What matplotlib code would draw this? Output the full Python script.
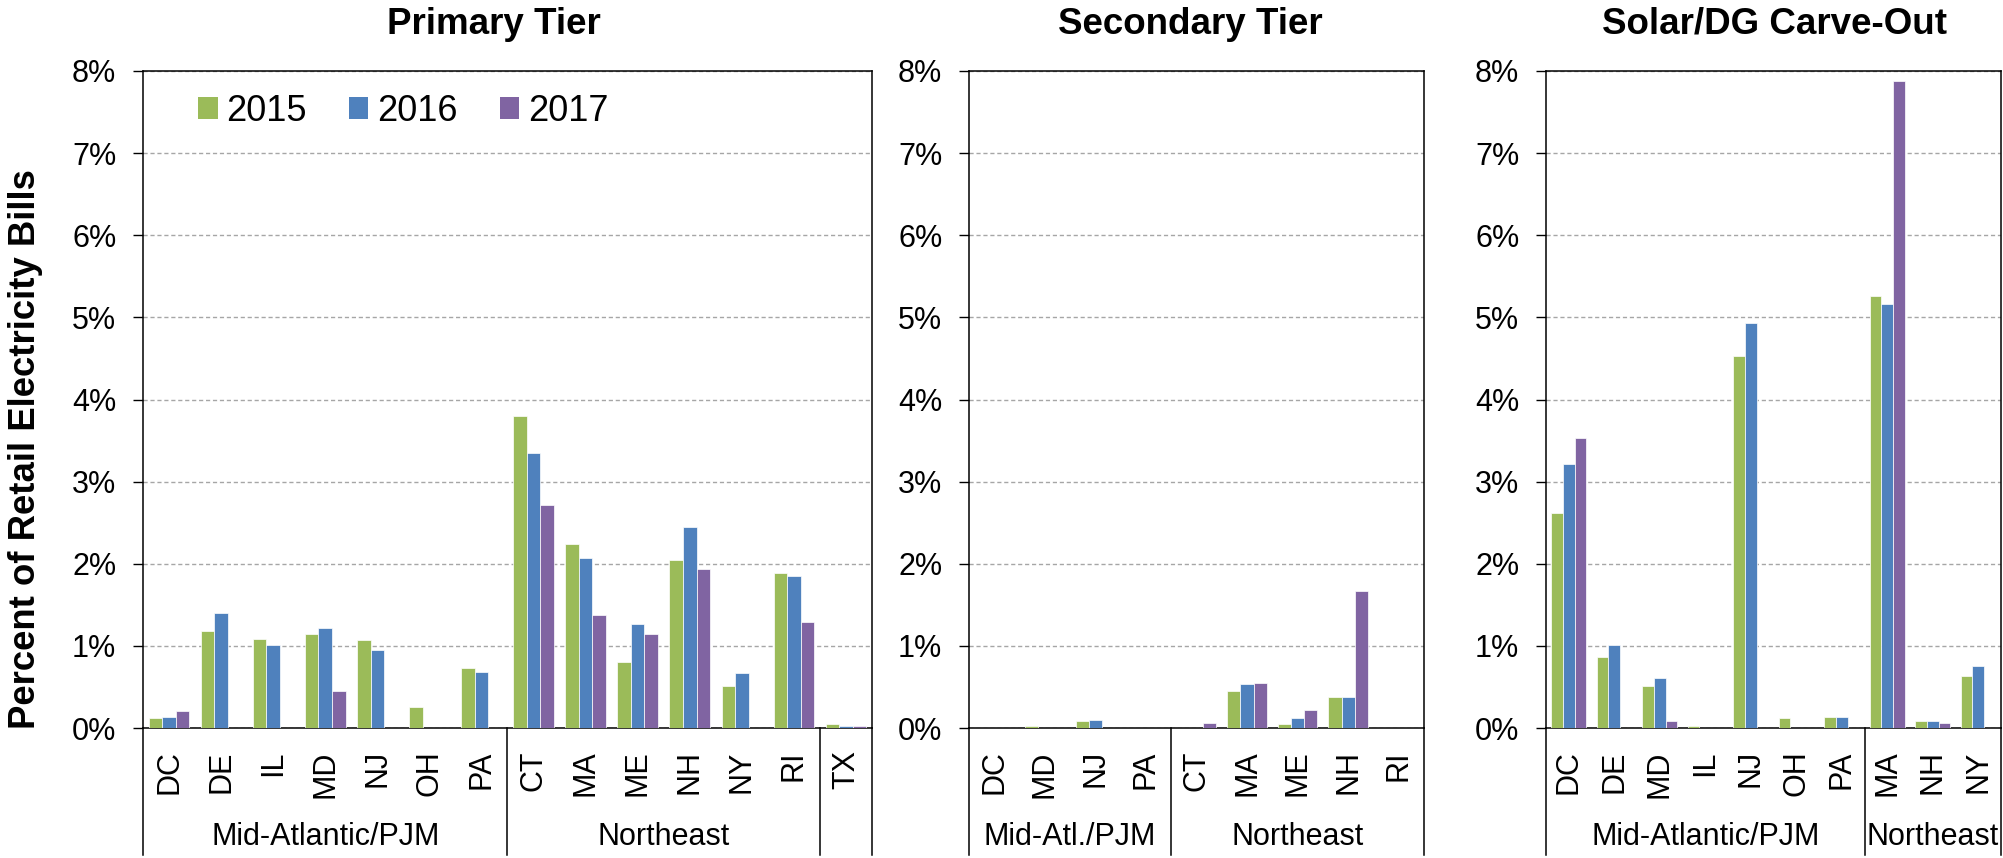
import matplotlib
matplotlib.use("Agg")
import matplotlib.pyplot as plt
from matplotlib.lines import Line2D
from matplotlib.patches import Patch
from matplotlib.ticker import FuncFormatter
import numpy as np

plt.rcParams['font.family'] = ['Liberation Sans', 'DejaVu Sans']

years = ["2015", "2016", "2017"]
year_colors = ["#9BBB59", "#4F81BD", "#8064A2"]

# ---- Primary Tier ----
primary_states = ["DC", "DE", "IL", "MD", "NJ", "OH", "PA", "CT", "MA", "ME", "NH", "NY", "RI", "TX"]
primary_2015 = [0.12, 1.18, 1.08, 1.14, 1.07, 0.25, 0.73, 3.80, 2.24, 0.80, 2.05, 0.51, 1.89, 0.05]
primary_2016 = [0.14, 1.40, 1.01, 1.22, 0.95, 0.00, 0.68, 3.35, 2.07, 1.27, 2.45, 0.67, 1.85, 0.03]
primary_2017 = [0.21, 0.00, 0.00, 0.45, 0.00, 0.00, 0.00, 2.71, 1.37, 1.15, 1.93, 0.00, 1.29, 0.03]
primary_groups = ["Mid-Atlantic/PJM", "Northeast", ""]
primary_group_sizes = [7, 6, 1]

# ---- Secondary Tier ----
secondary_states = ["DC", "MD", "NJ", "PA", "CT", "MA", "ME", "NH", "RI"]
secondary_2015 = [0.00, 0.02, 0.08, 0.00, 0.00, 0.45, 0.045, 0.38, 0.005]
secondary_2016 = [0.00, 0.00, 0.10, 0.00, 0.00, 0.53, 0.12, 0.38, 0.00]
secondary_2017 = [0.00, 0.00, 0.00, 0.00, 0.065, 0.55, 0.22, 1.67, 0.00]
secondary_groups = ["Mid-Atl./PJM", "Northeast"]
secondary_group_sizes = [4, 5]

# ---- Solar/DG Carve-Out ----
solar_states = ["DC", "DE", "MD", "IL", "NJ", "OH", "PA", "MA", "NH", "NY"]
solar_2015 = [2.62, 0.86, 0.51, 0.025, 4.53, 0.12, 0.14, 5.26, 0.08, 0.63]
solar_2016 = [3.22, 1.01, 0.61, 0.00, 4.93, 0.00, 0.14, 5.16, 0.08, 0.76]
solar_2017 = [3.53, 0.00, 0.08, 0.00, 0.00, 0.00, 0.00, 7.88, 0.06, 0.00]
solar_groups = ["Mid-Atlantic/PJM", "Northeast"]
solar_group_sizes = [7, 3]

titles = ["Primary Tier", "Secondary Tier", "Solar/DG Carve-Out"]
y_ticks = [0, 1, 2, 3, 4, 5, 6, 7, 8]

W, H = 2003, 858
fig = plt.figure(figsize=(W / 100, H / 100), dpi=100)

rects = [
    [143 / W, 130 / H, 729 / W, 657 / H],
    [969 / W, 130 / H, 455 / W, 657 / H],
    [1546 / W, 130 / H, 455 / W, 657 / H],
]
title_x = [494, 1190, 1774]

panels = [
    (primary_states, [primary_2015, primary_2016, primary_2017], primary_groups, primary_group_sizes),
    (secondary_states, [secondary_2015, secondary_2016, secondary_2017], secondary_groups, secondary_group_sizes),
    (solar_states, [solar_2015, solar_2016, solar_2017], solar_groups, solar_group_sizes),
]

bar_w = 0.26
FS = 22
sep_bottom = -(855 - 728) / 657
group_label_y = -(837 - 728) / 657

axes = []
for k, (states, series, groups, sizes) in enumerate(panels):
    ax = fig.add_axes(rects[k])
    axes.append(ax)
    n = len(states)
    x = np.arange(n)
    for j, vals in enumerate(series):
        ax.bar(x + (j - 1) * bar_w, vals, width=bar_w, color=year_colors[j],
               edgecolor="white", linewidth=0.5, zorder=3)
    ax.set_xlim(-0.5, n - 0.5)
    ax.set_ylim(0, 8)
    ax.set_yticks(y_ticks)
    ax.yaxis.set_major_formatter(FuncFormatter(lambda v, p: f"{int(round(v))}%"))
    ax.set_xticks(x)
    ax.set_xticklabels(states, rotation=90, fontsize=FS)
    ax.tick_params(axis="x", length=0, pad=16)
    ax.tick_params(axis="y", direction="out", length=7.2, width=1.0, labelsize=FS, pad=12)
    ax.grid(axis="y", color="#A6A6A6", linestyle=(0, (3, 2)), linewidth=1.0, zorder=0)
    for sp in ax.spines.values():
        sp.set_color("black")
        sp.set_linewidth(1.1)
    # multi-level category axis: group separators and group labels
    bounds = np.concatenate([[0], np.cumsum(sizes)])
    for b in bounds:
        xb = b / n
        ax.add_line(Line2D([xb, xb], [0, sep_bottom], transform=ax.transAxes,
                           color="black", linewidth=1.1, clip_on=False))
    for g, lab in enumerate(groups):
        if lab:
            xc = (bounds[g] + bounds[g + 1]) / 2 / n
            ax.text(xc, group_label_y, lab, transform=ax.transAxes, ha="center",
                    va="center", fontsize=FS, clip_on=False)
    fig.text(title_x[k] / W, 1 - 24 / H, titles[k], ha="center", va="center",
             fontsize=26.5, fontweight="bold")

fig.text(26 / W, (H - 449) / H, "Percent of Retail Electricity Bills", rotation=90,
         ha="center", va="center", fontsize=26.3, fontweight="bold")

handles = [Patch(facecolor=c, edgecolor="none") for c in year_colors]
axes[0].legend(handles, years, loc="upper left", bbox_to_anchor=(0.075, 0.965),
               ncol=3, frameon=False, fontsize=26, handlelength=0.55, handleheight=0.55,
               handletextpad=0.25, columnspacing=1.15, borderpad=0, borderaxespad=0)

fig.savefig("out.png", dpi=100)
